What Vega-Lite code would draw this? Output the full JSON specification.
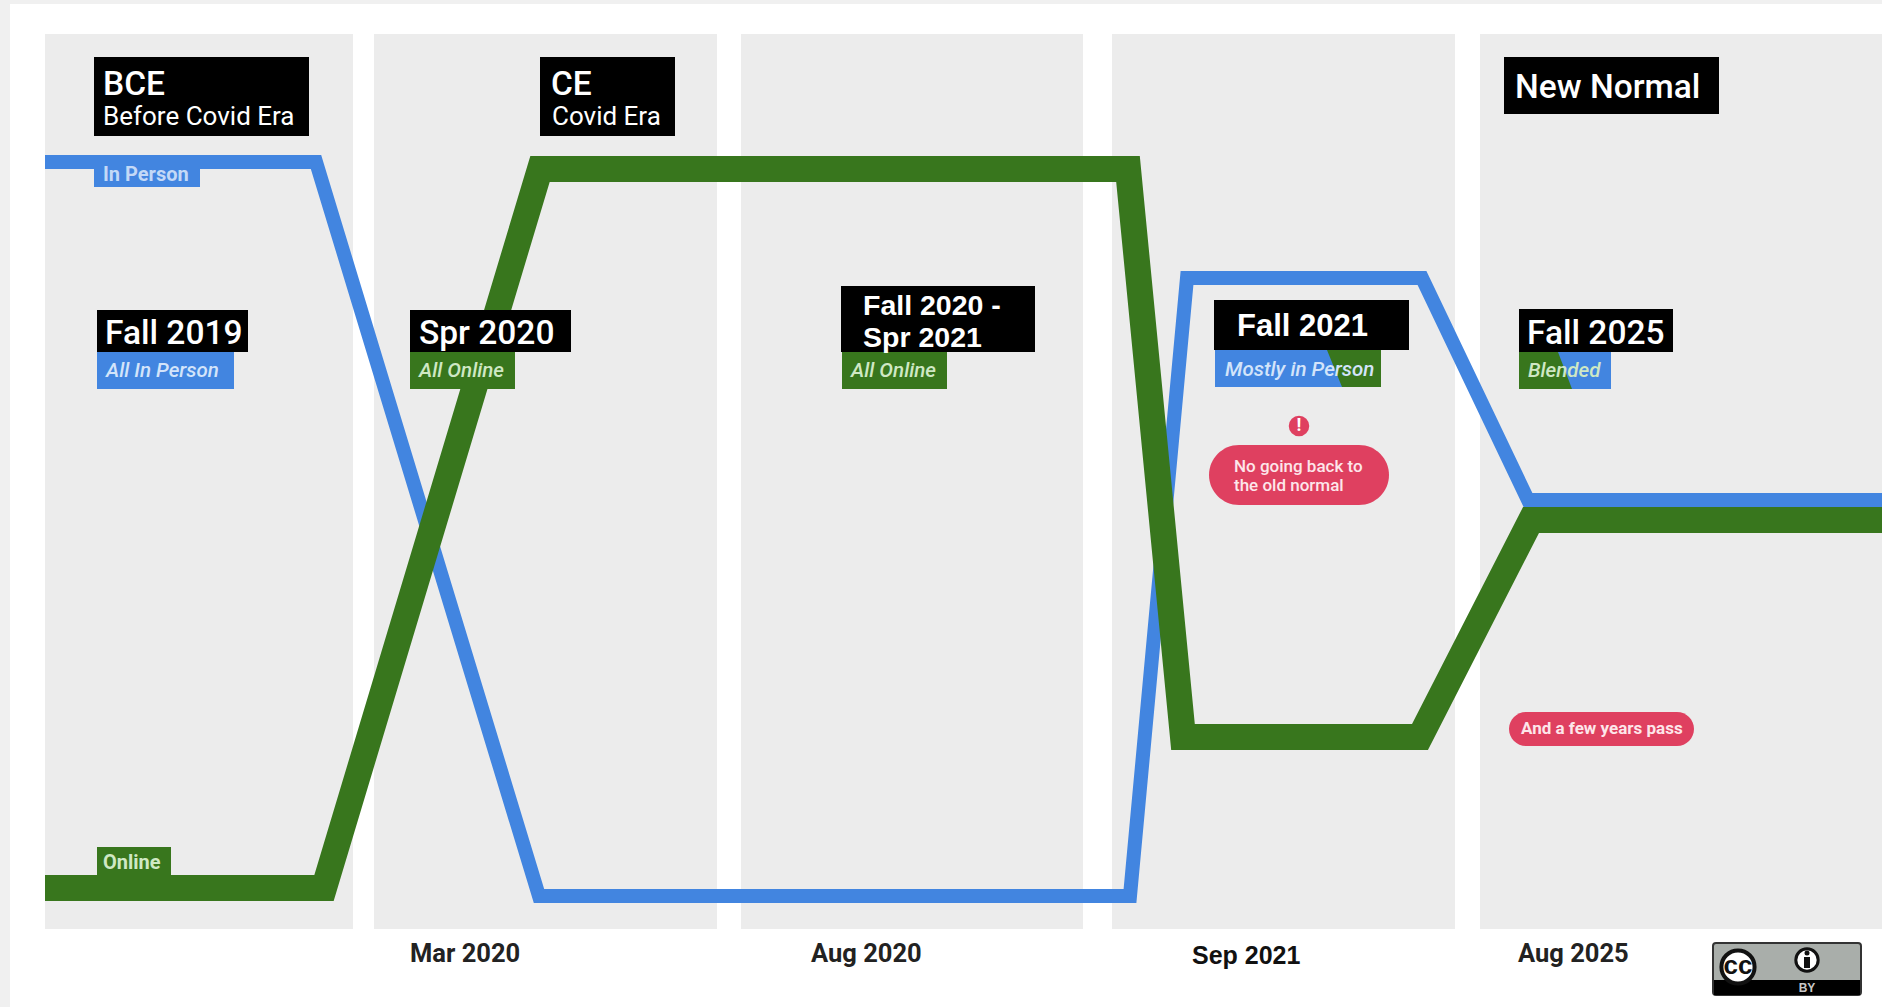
{
"$schema":"https://vega.github.io/schema/vega-lite/v6.json",
"width":1882,"height":1007,"padding":0,
"autosize":{"type":"none"},
"background":"#ffffff",
"config":{"view":{"stroke":null}},
"layer":[
{"data":{"values":[
{"name":"strip top","x":0,"x2":1882,"y":0,"y2":4,"kind":"strip"},
{"name":"strip left","x":0,"x2":10,"y":0,"y2":1007,"kind":"strip"},
{"name":"Era 1","x":45,"x2":353,"y":34,"y2":929,"kind":"panel"},
{"name":"Era 2","x":374,"x2":717,"y":34,"y2":929,"kind":"panel"},
{"name":"Era 3","x":741,"x2":1083,"y":34,"y2":929,"kind":"panel"},
{"name":"Era 4","x":1112,"x2":1455,"y":34,"y2":929,"kind":"panel"},
{"name":"Era 5","x":1480,"x2":1882,"y":34,"y2":929,"kind":"panel"}
]},
"mark":{"type":"rect"},
"encoding":{
"x":{"field":"x","type":"quantitative","scale":{"domain":[0,1882],"nice":false,"zero":false},"axis":null},
"x2":{"field":"x2"},
"y":{"field":"y","type":"quantitative","scale":{"domain":[1007,0],"nice":false,"zero":false},"axis":null},
"y2":{"field":"y2"},
"color":{"field":"kind","type":"nominal","legend":null,"scale":{"domain":["strip","panel","blue","green","black","red","ccgrey","onBlue","onGreen","tagBlue"],"range":["#f0f0f0","#ececec","#4285e0","#38761d","#000000","#df4060","#a9aeaa","#d3e4fa","#cfe8c4","#c3d9f7"]}}
}},
{"data":{"values":[
{"series":"In Person","x":45,"y":162},{"series":"In Person","x":316,"y":162},{"series":"In Person","x":539,"y":896},{"series":"In Person","x":1130,"y":896},{"series":"In Person","x":1187,"y":278},{"series":"In Person","x":1422,"y":278},{"series":"In Person","x":1528,"y":500},{"series":"In Person","x":1882,"y":500},
{"series":"Online","x":45,"y":888},{"series":"Online","x":324,"y":888},{"series":"Online","x":540,"y":169},{"series":"Online","x":1128,"y":169},{"series":"Online","x":1183,"y":737},{"series":"Online","x":1420,"y":737},{"series":"Online","x":1531,"y":520},{"series":"Online","x":1882,"y":520}
]},
"mark":{"type":"line","strokeJoin":"miter","strokeMiterLimit":10,"strokeCap":"butt"},
"encoding":{
"x":{"field":"x","type":"quantitative","axis":null},
"y":{"field":"y","type":"quantitative","axis":null},
"order":{"field":"x"},
"stroke":{"field":"series","type":"nominal","legend":null,"scale":{"domain":["In Person","Online"],"range":["#4285e0","#38761d"]}},
"strokeWidth":{"field":"series","type":"nominal","legend":null,"scale":{"domain":["In Person","Online"],"range":[14,26]}}
}},
{"data":{"values":[
{"name":"BCE","x":94,"x2":309,"y":57,"y2":136,"kind":"black"},
{"name":"CE","x":540,"x2":675,"y":57,"y2":136,"kind":"black"},
{"name":"New Normal","x":1504,"x2":1719,"y":57,"y2":114,"kind":"black"},
{"name":"In Person tag","x":94,"x2":200,"y":169,"y2":187,"kind":"blue"},
{"name":"Online tag","x":97,"x2":171,"y":847,"y2":876,"kind":"green"},
{"name":"Fall 2019","x":97,"x2":248,"y":310,"y2":352,"kind":"black"},
{"name":"All In Person","x":97,"x2":234,"y":352,"y2":389,"kind":"blue"},
{"name":"Spr 2020","x":410,"x2":571,"y":310,"y2":352,"kind":"black"},
{"name":"All Online","x":410,"x2":515,"y":352,"y2":389,"kind":"green"},
{"name":"Fall 2020","x":841,"x2":1035,"y":286,"y2":352,"kind":"black"},
{"name":"All Online 2","x":842,"x2":947,"y":352,"y2":389,"kind":"green"},
{"name":"Fall 2021","x":1214,"x2":1409,"y":300,"y2":350,"kind":"black"},
{"name":"Mostly in Person","x":1215,"x2":1381,"y":350,"y2":387,"kind":"blue"},
{"name":"Fall 2025","x":1519,"x2":1673,"y":309,"y2":352,"kind":"black"},
{"name":"Blended","x":1519,"x2":1611,"y":352,"y2":389,"kind":"blue"}
]},
"mark":{"type":"rect"},
"encoding":{
"x":{"field":"x","type":"quantitative"},"x2":{"field":"x2"},
"y":{"field":"y","type":"quantitative"},"y2":{"field":"y2"},
"color":{"field":"kind","type":"nominal","legend":null}
}},
{"data":{"values":[
{"name":"Mostly in Person","y":350,"x":1327,"x2":1381},{"name":"Mostly in Person","y":387,"x":1342,"x2":1381},
{"name":"Blended","y":352,"x":1519,"x2":1558},{"name":"Blended","y":389,"x":1519,"x2":1572}
]},
"mark":{"type":"area","orient":"horizontal","color":"#38761d"},
"encoding":{
"y":{"field":"y","type":"quantitative"},
"x":{"field":"x","type":"quantitative"},"x2":{"field":"x2"},
"detail":{"field":"name"}
}},
{"data":{"values":[
{"name":"No going back","x":1209,"x2":1389,"y":445,"y2":505,"kind":"red"}
]},
"mark":{"type":"rect","cornerRadius":30},
"encoding":{"x":{"field":"x","type":"quantitative"},"x2":{"field":"x2"},"y":{"field":"y","type":"quantitative"},"y2":{"field":"y2"},"color":{"field":"kind","type":"nominal","legend":null}}},
{"data":{"values":[
{"name":"A few years","x":1509,"x2":1694,"y":712,"y2":746,"kind":"red"}
]},
"mark":{"type":"rect","cornerRadius":17},
"encoding":{"x":{"field":"x","type":"quantitative"},"x2":{"field":"x2"},"y":{"field":"y","type":"quantitative"},"y2":{"field":"y2"},"color":{"field":"kind","type":"nominal","legend":null}}},
{"data":{"values":[{"x":1299,"y":426}]},
"mark":{"type":"point","filled":true,"shape":"circle","size":420,"color":"#df4060","opacity":1},
"encoding":{"x":{"field":"x","type":"quantitative"},"y":{"field":"y","type":"quantitative"}}},
{"data":{"values":[{"t":"!","x":1299,"y":426}]},
"mark":{"type":"text","font":"Roboto","fontWeight":700,"fontSize":18,"color":"#ffffff","align":"center","baseline":"middle"},
"encoding":{"x":{"field":"x","type":"quantitative"},"y":{"field":"y","type":"quantitative"},"text":{"field":"t"}}},
{"data":{"values":[
{"t":"BCE","x":103,"y":85},{"t":"CE","x":551,"y":85},{"t":"New Normal","x":1515,"y":88},
{"t":"Fall 2019","x":105,"y":334},{"t":"Spr 2020","x":419,"y":334},{"t":"Fall 2025","x":1527,"y":334}
]},
"mark":{"type":"text","font":"Roboto","fontWeight":500,"fontSize":33.5,"color":"#ffffff","align":"left","baseline":"middle"},
"encoding":{"x":{"field":"x","type":"quantitative"},"y":{"field":"y","type":"quantitative"},"text":{"field":"t"}}},
{"data":{"values":[
{"t":"Before Covid Era","x":103,"y":117},{"t":"Covid Era","x":552,"y":117}
]},
"mark":{"type":"text","font":"Roboto","fontSize":26,"color":"#ffffff","align":"left","baseline":"middle"},
"encoding":{"x":{"field":"x","type":"quantitative"},"y":{"field":"y","type":"quantitative"},"text":{"field":"t"}}},
{"data":{"values":[
{"t":"Fall 2020 -","x":863,"y":306},{"t":"Spr 2021","x":863,"y":338}
]},
"mark":{"type":"text","font":"Liberation Sans","fontWeight":700,"fontSize":28.5,"color":"#ffffff","align":"left","baseline":"middle"},
"encoding":{"x":{"field":"x","type":"quantitative"},"y":{"field":"y","type":"quantitative"},"text":{"field":"t"}}},
{"data":{"values":[
{"t":"Fall 2021","x":1237,"y":327}
]},
"mark":{"type":"text","font":"Liberation Sans","fontWeight":700,"fontSize":31,"color":"#ffffff","align":"left","baseline":"middle"},
"encoding":{"x":{"field":"x","type":"quantitative"},"y":{"field":"y","type":"quantitative"},"text":{"field":"t"}}},
{"data":{"values":[
{"t":"All In Person","x":106,"y":371,"c":"onBlue"},{"t":"Mostly in Person","x":1225,"y":370,"c":"onBlue"},
{"t":"All Online","x":419,"y":371,"c":"onGreen"},{"t":"All Online","x":851,"y":371,"c":"onGreen"},{"t":"Blended","x":1528,"y":371,"c":"onGreen"}
]},
"mark":{"type":"text","font":"Roboto","fontWeight":500,"fontStyle":"italic","fontSize":20.5,"align":"left","baseline":"middle"},
"encoding":{"x":{"field":"x","type":"quantitative"},"y":{"field":"y","type":"quantitative"},"text":{"field":"t"},
"color":{"field":"c","type":"nominal","legend":null}}},
{"data":{"values":[
{"t":"In Person","x":103,"y":175,"c":"tagBlue"},{"t":"Online","x":103,"y":863,"c":"onGreen"}
]},
"mark":{"type":"text","font":"Roboto","fontWeight":700,"fontSize":20,"align":"left","baseline":"middle"},
"encoding":{"x":{"field":"x","type":"quantitative"},"y":{"field":"y","type":"quantitative"},"text":{"field":"t"},
"color":{"field":"c","type":"nominal","legend":null}}},
{"data":{"values":[
{"t":"No going back to","x":1234,"y":467},{"t":"the old normal","x":1234,"y":486}
]},
"mark":{"type":"text","font":"Roboto","fontWeight":500,"fontSize":17,"color":"#fde6ea","align":"left","baseline":"middle"},
"encoding":{"x":{"field":"x","type":"quantitative"},"y":{"field":"y","type":"quantitative"},"text":{"field":"t"}}},
{"data":{"values":[
{"t":"And a few years pass","x":1521,"y":729}
]},
"mark":{"type":"text","font":"Roboto","fontWeight":700,"fontSize":17,"color":"#fde6ea","align":"left","baseline":"middle"},
"encoding":{"x":{"field":"x","type":"quantitative"},"y":{"field":"y","type":"quantitative"},"text":{"field":"t"}}},
{"data":{"values":[
{"t":"Mar 2020","x":410,"y":954},{"t":"Aug 2020","x":811,"y":954},{"t":"Aug 2025","x":1518,"y":954}
]},
"mark":{"type":"text","font":"Roboto","fontWeight":700,"fontSize":25.5,"color":"#222222","align":"left","baseline":"middle"},
"encoding":{"x":{"field":"x","type":"quantitative"},"y":{"field":"y","type":"quantitative"},"text":{"field":"t"}}},
{"data":{"values":[
{"t":"Sep 2021","x":1192,"y":956}
]},
"mark":{"type":"text","font":"Liberation Sans","fontWeight":700,"fontSize":25,"color":"#111111","align":"left","baseline":"middle"},
"encoding":{"x":{"field":"x","type":"quantitative"},"y":{"field":"y","type":"quantitative"},"text":{"field":"t"}}},
{"data":{"values":[
{"name":"badge","x":1713,"x2":1861,"y":943,"y2":995,"kind":"ccgrey"}
]},
"mark":{"type":"rect","cornerRadius":3,"stroke":"#333333","strokeWidth":2},
"encoding":{"x":{"field":"x","type":"quantitative"},"x2":{"field":"x2"},"y":{"field":"y","type":"quantitative"},"y2":{"field":"y2"},"color":{"field":"kind","type":"nominal","legend":null}}},
{"data":{"values":[
{"name":"band","x":1714,"x2":1860,"y":980,"y2":995,"kind":"black"}
]},
"mark":{"type":"rect"},
"encoding":{"x":{"field":"x","type":"quantitative"},"x2":{"field":"x2"},"y":{"field":"y","type":"quantitative"},"y2":{"field":"y2"},"color":{"field":"kind","type":"nominal","legend":null}}},
{"data":{"values":[{"x":1738,"y":967}]},
"mark":{"type":"point","filled":true,"shape":"circle","size":1100,"color":"#ffffff","stroke":"#111111","strokeWidth":4,"opacity":1},
"encoding":{"x":{"field":"x","type":"quantitative"},"y":{"field":"y","type":"quantitative"}}},
{"data":{"values":[{"x":1807,"y":960}]},
"mark":{"type":"point","filled":true,"shape":"circle","size":500,"color":"#ffffff","stroke":"#111111","strokeWidth":3,"opacity":1},
"encoding":{"x":{"field":"x","type":"quantitative"},"y":{"field":"y","type":"quantitative"}}},
{"data":{"values":[{"x":1807,"y":953}]},
"mark":{"type":"point","filled":true,"shape":"circle","size":25,"color":"#111111","opacity":1},
"encoding":{"x":{"field":"x","type":"quantitative"},"y":{"field":"y","type":"quantitative"}}},
{"data":{"values":[{"name":"body","x":1804,"x2":1810,"y":957,"y2":968}]},
"mark":{"type":"rect","color":"#111111"},
"encoding":{"x":{"field":"x","type":"quantitative"},"x2":{"field":"x2"},"y":{"field":"y","type":"quantitative"},"y2":{"field":"y2"}}},
{"data":{"values":[{"t":"cc","x":1738,"y":966}]},
"mark":{"type":"text","font":"Liberation Sans","fontWeight":700,"fontSize":26,"color":"#111111","align":"center","baseline":"middle"},
"encoding":{"x":{"field":"x","type":"quantitative"},"y":{"field":"y","type":"quantitative"},"text":{"field":"t"}}},
{"data":{"values":[{"t":"BY","x":1807,"y":988}]},
"mark":{"type":"text","font":"Liberation Sans","fontWeight":700,"fontSize":12,"color":"#c8c8c8","align":"center","baseline":"middle"},
"encoding":{"x":{"field":"x","type":"quantitative"},"y":{"field":"y","type":"quantitative"},"text":{"field":"t"}}}
]
}
